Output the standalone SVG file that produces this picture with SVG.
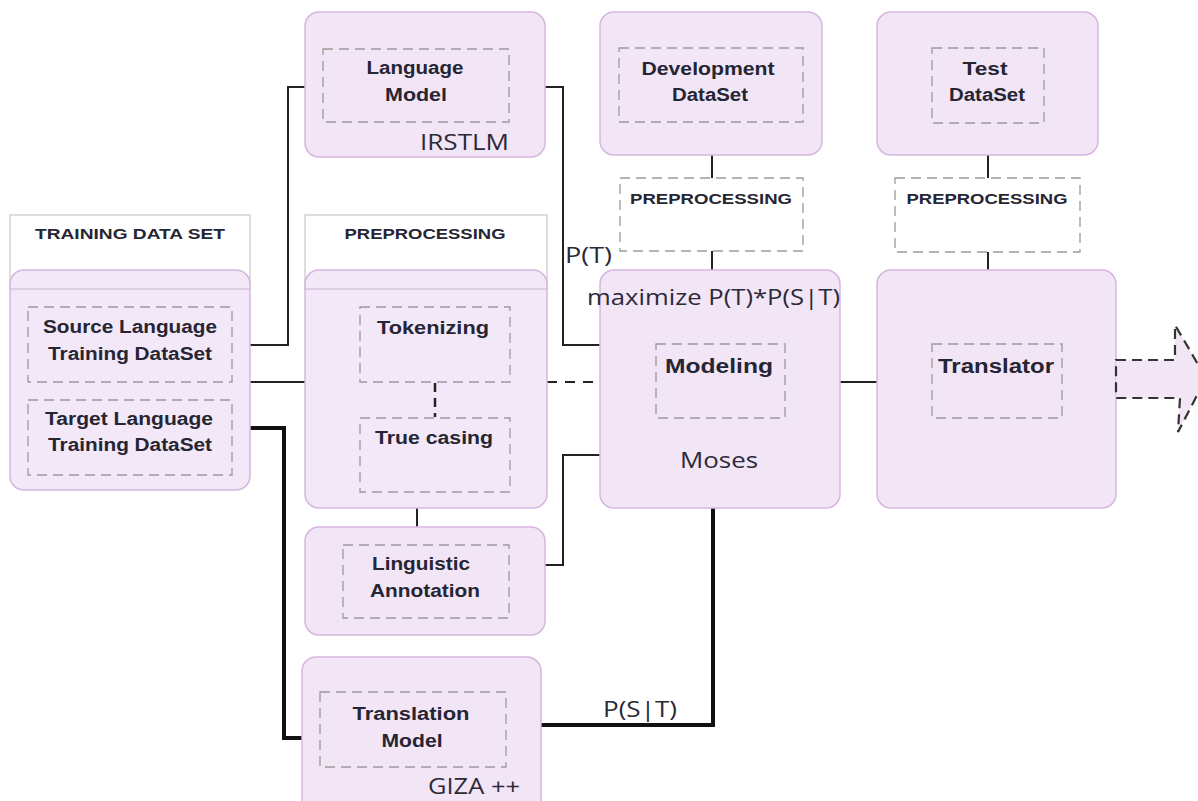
<svg xmlns="http://www.w3.org/2000/svg" width="1198" height="801" viewBox="0 0 1198 801">
<defs>
<style>
.box{fill:#f2e5f6;stroke:#d6b6df;stroke-width:1.5}
.hdr{fill:#ffffff;stroke:#c8c8c8;stroke-width:1.2}
.inner{fill:none;stroke:#9a9a9a;stroke-width:1.3;stroke-dasharray:10,6}
.lbl{font-family:"Liberation Sans",Arial,sans-serif;font-weight:bold;font-size:18px;fill:#262533;text-anchor:middle}
.cap{font-family:"Liberation Sans",Arial,sans-serif;font-weight:bold;font-size:15.5px;fill:#262533;text-anchor:middle}
.cal{font-family:"Open Sans","Noto Sans",sans-serif;font-size:22px;fill:#2b2a38}
.ln{fill:none;stroke:#222;stroke-width:2}
.thick{fill:none;stroke:#111;stroke-width:4}
.dash{fill:none;stroke:#222;stroke-width:2;stroke-dasharray:10,8}
</style>
</defs>
<rect width="1198" height="801" fill="#ffffff"/>

<g id="connectors">
<polyline class="ln" points="250,345 288,345 288,87 305,87"/>
<line class="ln" x1="250" y1="382" x2="305" y2="382"/>
<polyline class="thick" points="250,428 284,428 284,738 302,738"/>
<polyline class="ln" points="545,87 563,87 563,345 600,345"/>
<line class="dash" x1="547" y1="382" x2="600" y2="382"/>
<polyline class="ln" points="545,565 563,565 563,455 600,455"/>
<line class="ln" x1="840" y1="382" x2="877" y2="382"/>
<polyline class="thick" points="541,725 713,725 713,507"/>
<line class="ln" x1="417" y1="508" x2="417" y2="527"/>
<line class="ln" x1="712" y1="155" x2="712" y2="178"/>
<line class="ln" x1="712" y1="251" x2="712" y2="270"/>
<line class="ln" x1="988" y1="155" x2="988" y2="178"/>
<line class="ln" x1="988" y1="252" x2="988" y2="270"/>
<text class="cal" x="565" y="263" textLength="47" lengthAdjust="spacingAndGlyphs">P(T)</text>
<text class="cal" x="603" y="717" textLength="74" lengthAdjust="spacingAndGlyphs">P(S|T)</text>
</g>

<g id="training">
<rect class="hdr" x="10" y="215" width="240" height="74"/>
<text class="cap" x="130" y="239" textLength="190" lengthAdjust="spacingAndGlyphs">TRAINING DATA SET</text>
<rect class="box" x="10" y="270" width="240" height="220" rx="14" style="fill-opacity:0.9"/>
<line x1="10" y1="289" x2="250" y2="289" stroke="#cdb3d6" stroke-width="1.2"/>
<rect class="inner" x="28" y="307" width="204" height="75"/>
<text class="lbl" x="130" y="333" textLength="174" lengthAdjust="spacingAndGlyphs">Source Language</text>
<text class="lbl" x="130" y="360" textLength="164" lengthAdjust="spacingAndGlyphs">Training DataSet</text>
<rect class="inner" x="28" y="400" width="204" height="75"/>
<text class="lbl" x="129" y="425" textLength="168" lengthAdjust="spacingAndGlyphs">Target Language</text>
<text class="lbl" x="130" y="451" textLength="164" lengthAdjust="spacingAndGlyphs">Training DataSet</text>
</g>

<g id="language-model">
<rect class="box" x="305" y="12" width="240" height="145" rx="14"/>
<rect class="inner" x="323" y="49" width="186" height="73"/>
<text class="lbl" x="415" y="74" textLength="97" lengthAdjust="spacingAndGlyphs">Language</text>
<text class="lbl" x="416" y="101" textLength="62" lengthAdjust="spacingAndGlyphs">Model</text>
<text class="cal" x="420" y="150" textLength="89" lengthAdjust="spacingAndGlyphs">IRSTLM</text>
</g>

<g id="development">
<rect class="box" x="600" y="12" width="222" height="143" rx="14"/>
<rect class="inner" x="619" y="48" width="184" height="74"/>
<text class="lbl" x="708" y="75" textLength="133" lengthAdjust="spacingAndGlyphs">Development</text>
<text class="lbl" x="710" y="101" textLength="76" lengthAdjust="spacingAndGlyphs">DataSet</text>
</g>
<g id="dev-preprocessing">
<rect class="inner" x="620" y="178" width="183" height="73" style="fill:#fff"/>
<text class="cap" x="711" y="204" textLength="162" lengthAdjust="spacingAndGlyphs">PREPROCESSING</text>
</g>

<g id="test">
<rect class="box" x="877" y="12" width="221" height="143" rx="14"/>
<rect class="inner" x="932" y="48" width="112" height="75"/>
<text class="lbl" x="985" y="75" textLength="45" lengthAdjust="spacingAndGlyphs">Test</text>
<text class="lbl" x="987" y="101" textLength="76" lengthAdjust="spacingAndGlyphs">DataSet</text>
</g>
<g id="test-preprocessing">
<rect class="inner" x="895" y="178" width="185" height="74" style="fill:#fff"/>
<text class="cap" x="987" y="204" textLength="161" lengthAdjust="spacingAndGlyphs">PREPROCESSING</text>
</g>

<g id="preprocessing">
<rect class="hdr" x="305" y="215" width="242" height="74"/>
<text class="cap" x="425" y="239" textLength="161" lengthAdjust="spacingAndGlyphs">PREPROCESSING</text>
<rect class="box" x="305" y="270" width="242" height="238" rx="14" style="fill-opacity:0.9"/>
<line x1="305" y1="289" x2="547" y2="289" stroke="#cdb3d6" stroke-width="1.2"/>
<rect class="inner" x="360" y="307" width="150" height="75"/>
<text class="lbl" x="433" y="334" textLength="112" lengthAdjust="spacingAndGlyphs">Tokenizing</text>
<line x1="435" y1="383" x2="435" y2="417" stroke="#222" stroke-width="2.5" stroke-dasharray="9,6"/>
<rect class="inner" x="360" y="418" width="150" height="74"/>
<text class="lbl" x="434" y="444" textLength="118" lengthAdjust="spacingAndGlyphs">True casing</text>
</g>

<g id="linguistic">
<rect class="box" x="305" y="527" width="240" height="108" rx="14"/>
<rect class="inner" x="343" y="545" width="166" height="73"/>
<text class="lbl" x="421" y="570" textLength="98" lengthAdjust="spacingAndGlyphs">Linguistic</text>
<text class="lbl" x="425" y="597" textLength="110" lengthAdjust="spacingAndGlyphs">Annotation</text>
</g>

<g id="translation-model">
<rect class="box" x="302" y="657" width="239" height="160" rx="14"/>
<rect class="inner" x="320" y="692" width="186" height="75"/>
<text class="lbl" x="411" y="720" textLength="117" lengthAdjust="spacingAndGlyphs">Translation</text>
<text class="lbl" x="412" y="747" textLength="61" lengthAdjust="spacingAndGlyphs">Model</text>
<text class="cal" x="428" y="794" textLength="92" lengthAdjust="spacingAndGlyphs">GIZA ++</text>
</g>

<g id="moses">
<rect class="box" x="600" y="270" width="240" height="238" rx="14"/>
<text class="cal" x="587" y="305" textLength="253" lengthAdjust="spacingAndGlyphs">maximize P(T)*P(S|T)</text>
<rect class="inner" x="656" y="344" width="129" height="74"/>
<text class="lbl" x="719" y="373" textLength="108" lengthAdjust="spacingAndGlyphs" style="font-size:20px">Modeling</text>
<text class="cal" x="719" y="468" text-anchor="middle" textLength="78" lengthAdjust="spacingAndGlyphs">Moses</text>
</g>

<g id="translator">
<rect class="box" x="877" y="270" width="239" height="238" rx="14"/>
<rect class="inner" x="932" y="344" width="130" height="74"/>
<text class="lbl" x="996" y="373" textLength="116" lengthAdjust="spacingAndGlyphs" style="font-size:20px">Translator</text>
</g>

<g id="output-arrow">
<polygon points="1116,360 1175,360 1175,325 1206,378 1178,432 1180,398 1116,398" fill="#f2e5f6" stroke="#333" stroke-width="2.2" stroke-dasharray="10,6"/>
</g>
</svg>
